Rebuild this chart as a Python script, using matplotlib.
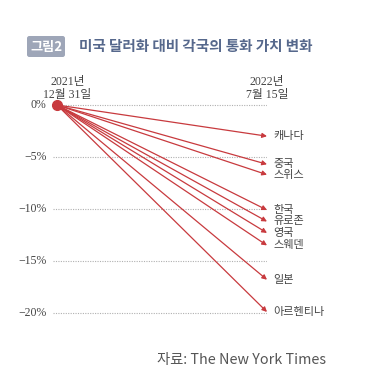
import matplotlib.pyplot as plt
from matplotlib.patches import FancyBboxPatch

countries = ["캐나다", "중국", "스위스", "한국", "유로존", "영국", "스웨덴", "일본", "아르헨티나"]
changes = [-3.0, -5.7, -6.7, -10.1, -11.2, -12.3, -13.5, -16.8, -19.9]
y_ticks = [0, -5, -10, -15, -20]
y_tick_labels = ["0%", "−5%", "−10%", "−15%", "−20%"]
start_label = "2021년\n12월 31일"
end_label = "2022년\n7월 15일"

RED = "#c83a3e"
GRID = "#b0b0b0"
TEXT = "#444444"
KR = ["Noto Sans CJK KR", "DejaVu Sans"]
SERIF = ["Liberation Serif", "Noto Sans CJK KR"]

W = 387
fig = plt.figure(figsize=(3.87, 3.87), dpi=100)

# axes placed in pixel terms: x 53..267, y 0% at 105, -20% at 313 (from top)
x0, x1 = 53, 267
ax = fig.add_axes([x0 / W, (W - 318.2) / W, (x1 - x0) / W, (318.2 - 99.8) / W])
ax.set_xlim(-4 / 210, 1.0)
ax.set_ylim(-20.5, 0.5)
ax.axis("off")

for t, lab in zip(y_ticks, y_tick_labels):
    ax.axhline(t, color=GRID, lw=0.8, ls=(0, (1, 1.2)), zorder=1)
    ax.text(-0.05, t, lab, ha="right", va="center", fontsize=8.5,
            family=SERIF, color=TEXT)

for name, v in zip(countries, changes):
    ax.annotate("", xy=(1.0, v), xytext=(0, 0),
                arrowprops=dict(arrowstyle="-|>", color=RED, lw=0.9,
                                mutation_scale=7, shrinkA=0, shrinkB=0),
                zorder=3, annotation_clip=False)
    ax.text(1.03, v, name, ha="left", va="center", fontsize=8,
            family=KR, color=TEXT)

ax.plot([0], [0], "o", color=RED, ms=7, zorder=4, clip_on=False)

for xpos, lab in [(0.05, start_label), (1.0, end_label)]:
    ax.text(xpos, 0.35, lab, ha="center", va="bottom", fontsize=8.5,
            family=SERIF, color=TEXT, linespacing=1.1)

# title badge
badge = FancyBboxPatch((27 / W, (W - 57) / W), 38 / W, 21 / W,
                       boxstyle="round,pad=0,rounding_size=0.006",
                       transform=fig.transFigure, color="#9ea6b8", lw=0)
fig.patches.append(badge)
fig.text(46 / W, (W - 46.5) / W, "그림2", ha="center", va="center",
         fontsize=9.5, family=KR, color="white", weight="bold")
fig.text(79 / W, (W - 46.5) / W, "미국 달러화 대비 각국의 통화 가치 변화",
         ha="left", va="center", fontsize=10.5, family=KR,
         color="#56688c", weight="bold")

fig.text(157 / W, (W - 360) / W, "자료: The New York Times", ha="left",
         va="center", fontsize=10.3, family=KR, color="#555555")

fig.savefig("out.png", dpi=100, facecolor="white")
